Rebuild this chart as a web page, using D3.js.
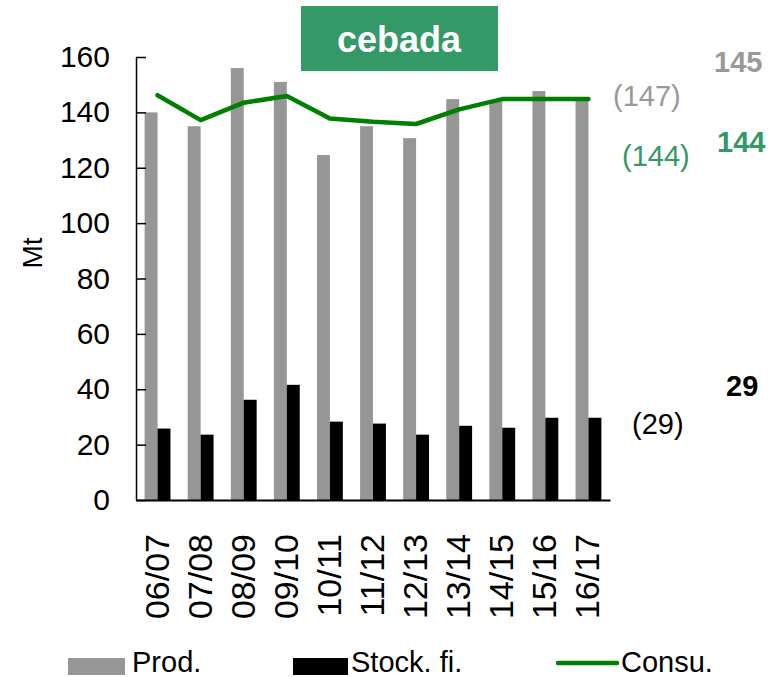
<!DOCTYPE html>
<html>
<head>
<meta charset="utf-8">
<script src="https://cdn.jsdelivr.net/npm/d3@7"></script>
<style>
  body { margin: 0; background: #fff; }
  svg { display: block; font-family: "Liberation Sans", Arial, sans-serif; }
</style>
</head>
<body>
<div id="chart"></div>
<script>
const width = 781;
const height = 677;

// data
const seasons = ["06/07", "07/08", "08/09", "09/10", "10/11", "11/12", "12/13", "13/14", "14/15", "15/16", "16/17"];
const prod = [140, 135, 156, 151, 124.6, 135, 130.7, 144.8, 144.5, 147.7, 145];
const stock = [25.8, 23.6, 36.2, 41.6, 28.3, 27.6, 23.6, 26.8, 26.1, 29.7, 29.7];
const consu = [146.2, 137.2, 143.5, 145.9, 137.8, 136.6, 135.8, 141.1, 144.8, 144.8, 144.8];
const yTicks = [0, 20, 40, 60, 80, 100, 120, 140, 160];
const sideNotes = [
    { text: "145", bold: true, color: "#999999", x: 714, y: 72 },
    { text: "(147)", bold: false, color: "#999999", x: 613, y: 106 },
    { text: "144", bold: true, color: "#339966", x: 717, y: 152 },
    { text: "(144)", bold: false, color: "#339966", x: 622, y: 166 },
    { text: "29", bold: true, color: "#000000", x: 726, y: 396 },
    { text: "(29)", bold: false, color: "#000000", x: 632, y: 434 }
];

const grey = "#969696";
const green = "#008000";

const svg = d3.select("#chart")
    .append("svg")
    .attr("width", width)
    .attr("height", height);

const x = d3.scaleBand()
    .domain(seasons)
    .range([136, 610])
    .paddingInner(0.4)
    .paddingOuter(0.2);

const xSub = d3.scaleBand()
    .domain(["prod", "stock"])
    .range([0, x.bandwidth()]);

const y = d3.scaleLinear()
    .domain([0, 160])
    .range([500, 57]);

// title box
svg.append("rect")
    .attr("x", 301)
    .attr("y", 6)
    .attr("width", 197)
    .attr("height", 65)
    .attr("fill", "#339966");

svg.append("text")
    .attr("x", 399)
    .attr("y", 52)
    .attr("text-anchor", "middle")
    .attr("fill", "#fff")
    .style("font-size", "36px")
    .style("font-weight", 700)
    .text("cebada");

// bars
const groups = svg.append("g")
    .selectAll("g")
    .data(seasons)
    .join("g")
    .attr("transform", d => `translate(${x(d)},0)`);

groups.append("rect")
    .attr("x", xSub("prod"))
    .attr("width", xSub.bandwidth())
    .attr("y", (d, i) => y(prod[i]))
    .attr("height", (d, i) => y(0) - y(prod[i]))
    .attr("fill", grey);

groups.append("rect")
    .attr("x", xSub("stock"))
    .attr("width", xSub.bandwidth())
    .attr("y", (d, i) => y(stock[i]))
    .attr("height", (d, i) => y(0) - y(stock[i]))
    .attr("fill", "#000");

// consumption line
const line = d3.line()
    .x((d, i) => x(seasons[i]) + x.bandwidth() / 2)
    .y(d => y(d));

svg.append("path")
    .datum(consu)
    .attr("d", line)
    .attr("fill", "none")
    .attr("stroke", green)
    .attr("stroke-width", 4.5)
    .attr("stroke-linejoin", "round")
    .attr("stroke-linecap", "round");

// axes
const yAxis = svg.append("g")
    .attr("transform", "translate(136,0)")
    .call(d3.axisLeft(y)
        .tickValues(yTicks)
        .tickSizeInner(-10)
        .tickSizeOuter(0)
        .tickPadding(26));

yAxis.selectAll("path, line").attr("stroke", "#000").attr("stroke-width", 1.5);
yAxis.selectAll("text")
    .attr("fill", "#000")
    .style("font-size", "30px")
    .style("font-family", "'Liberation Sans', Arial, sans-serif");

const xAxis = svg.append("g")
    .attr("transform", "translate(0,500)")
    .call(d3.axisBottom(x).tickSize(0).tickSizeOuter(0).tickPadding(0));

xAxis.select(".domain").attr("stroke", "#000").attr("stroke-width", 2);
xAxis.selectAll("text")
    .attr("fill", "#000")
    .attr("text-anchor", "end")
    .attr("dy", null)
    .attr("y", 0)
    .attr("transform", "translate(11,34) rotate(-90)")
    .style("font-size", "34px")
    .style("font-family", "'Liberation Sans', Arial, sans-serif");

svg.append("text")
    .attr("transform", "translate(42,253) rotate(-90)")
    .attr("text-anchor", "middle")
    .style("font-size", "28px")
    .text("Mt");

// side annotations
svg.append("g")
    .selectAll("text")
    .data(sideNotes)
    .join("text")
    .attr("x", d => d.x)
    .attr("y", d => d.y)
    .attr("fill", d => d.color)
    .style("font-size", "29px")
    .style("font-weight", d => d.bold ? 700 : 400)
    .text(d => d.text);

// legend
const legend = svg.append("g").style("font-size", "29px");

legend.append("rect")
    .attr("x", 68).attr("y", 658).attr("width", 57).attr("height", 17)
    .attr("fill", grey);
legend.append("text")
    .attr("x", 132).attr("y", 672)
    .text("Prod.");

legend.append("rect")
    .attr("x", 293).attr("y", 658).attr("width", 55).attr("height", 17)
    .attr("fill", "#000");
legend.append("text")
    .attr("x", 351).attr("y", 672)
    .text("Stock. fi.");

legend.append("line")
    .attr("x1", 558).attr("x2", 617).attr("y1", 663).attr("y2", 663)
    .attr("stroke", green)
    .attr("stroke-width", 4.5)
    .attr("stroke-linecap", "round");
legend.append("text")
    .attr("x", 621).attr("y", 672)
    .text("Consu.");
</script>
</body>
</html>
